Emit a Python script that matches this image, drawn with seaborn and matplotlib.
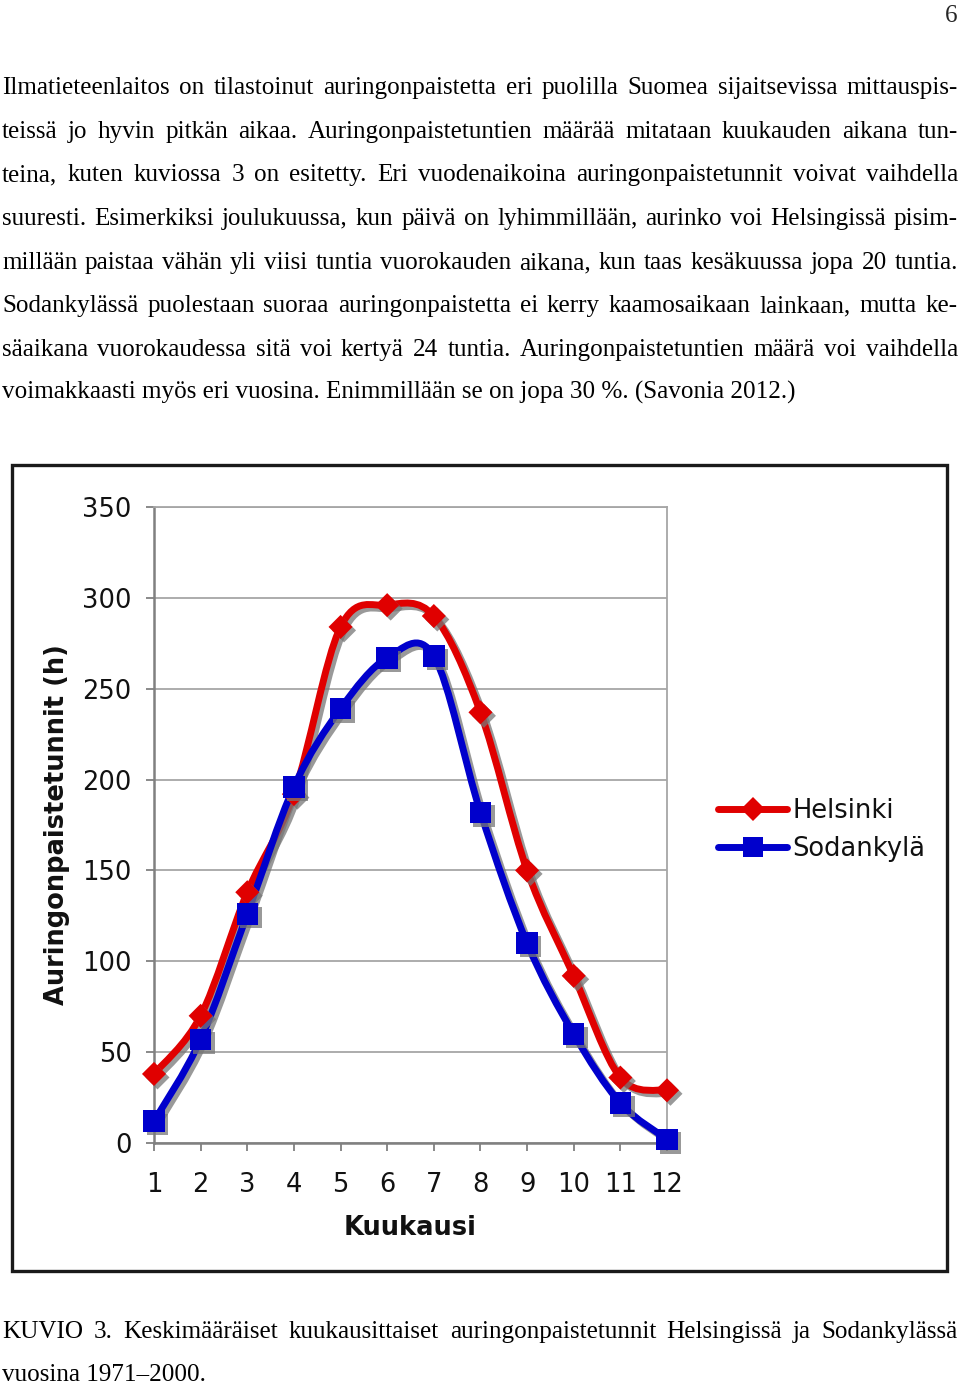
import numpy as np
import matplotlib
matplotlib.use("Agg")
import matplotlib.pyplot as plt
import seaborn as sns
from matplotlib.path import Path
from matplotlib.patches import PathPatch, Rectangle
from matplotlib.lines import Line2D
import matplotlib.patheffects as pe

# ---------------- data ----------------
months = list(range(1, 13))
month_labels = [str(m) for m in months]
helsinki = [38, 70, 138, 192, 284, 296, 290, 237, 150, 92, 36, 29]
sodankyla = [12, 57, 126, 196, 239, 267, 268, 182, 110, 60, 22, 2]
series_names = ["Helsinki", "Sodankylä"]
yticks = [0, 50, 100, 150, 200, 250, 300, 350]
xlabel = "Kuukausi"
ylabel = "Auringonpaistetunnit (h)"

body_lines = [
    "Ilmatieteenlaitos on tilastoinut auringonpaistetta eri puolilla Suomea sijaitsevissa mittauspis-",
    "teissä jo hyvin pitkän aikaa. Auringonpaistetuntien määrää mitataan kuukauden aikana tun-",
    "teina, kuten kuviossa 3 on esitetty. Eri vuodenaikoina auringonpaistetunnit voivat vaihdella",
    "suuresti. Esimerkiksi joulukuussa, kun päivä on lyhimmillään, aurinko voi Helsingissä pisim-",
    "millään paistaa vähän yli viisi tuntia vuorokauden aikana, kun taas kesäkuussa jopa 20 tuntia.",
    "Sodankylässä puolestaan suoraa auringonpaistetta ei kerry kaamosaikaan lainkaan, mutta ke-",
    "säaikana vuorokaudessa sitä voi kertyä 24 tuntia. Auringonpaistetuntien määrä voi vaihdella",
    "voimakkaasti myös eri vuosina. Enimmillään se on jopa 30 %. (Savonia 2012.)",
]
caption_lines = [
    "KUVIO 3. Keskimääräiset kuukausittaiset auringonpaistetunnit Helsingissä ja Sodankylässä",
    "vuosina 1971–2000.",
]
page_number = "6"

# ---------------- style ----------------
W, H = 960, 1384
RED = "#e00000"
BLUE = "#0000cc"
sns.set_theme(style="white")
plt.rcParams["font.family"] = ["DejaVu Sans"]

fig = plt.figure(figsize=(W / 100, H / 100), dpi=100)
fig.patch.set_facecolor("white")
renderer = fig.canvas.get_renderer()

SERIF = "Liberation Serif"


def px(x, y):
    return x / W, 1 - y / H


def text_w(s, fs):
    t = fig.text(0, 0, s, fontsize=fs, family=SERIF)
    w = t.get_window_extent(renderer).width
    t.remove()
    return w


# calibrate body font size from the unjustified last line (2 -> 797 px)
fs_body = 10 * 795 / text_w(body_lines[-1], 10)
LEFT, RIGHT = 2, 958


def draw_line(s, yc, justify):
    yb = yc + 7
    if not justify:
        fig.text(*px(LEFT, yb), s, fontsize=fs_body, family=SERIF,
                 ha="left", va="baseline", color="black")
        return
    words = s.split(" ")
    widths = [text_w(w, fs_body) for w in words]
    gap = (RIGHT - LEFT - sum(widths)) / (len(words) - 1)
    x = LEFT
    for w, wd in zip(words, widths):
        fig.text(*px(x, yb), w, fontsize=fs_body, family=SERIF,
                 ha="left", va="baseline", color="black")
        x += wd + gap


body_y = [87, 131, 174, 218, 262, 305, 349, 392]
for i, (s, y) in enumerate(zip(body_lines, body_y)):
    draw_line(s, y, justify=(i < len(body_lines) - 1))
cap_y = [1331, 1374]
draw_line(caption_lines[0], cap_y[0], True)
draw_line(caption_lines[1], cap_y[1], False)
fig.text(*px(958, 22), page_number, fontsize=fs_body, family=SERIF,
         ha="right", va="baseline")

# chart frame
x0, y0 = px(12, 1271)
x1, y1 = px(947, 465)
fig.add_artist(Rectangle((x0, y0), x1 - x0, y1 - y0, transform=fig.transFigure,
                         fill=False, edgecolor="#1a1a1a", linewidth=2.4))

# ---------------- axes ----------------
ax_l, ax_r, ax_t, ax_b = 154, 667, 507, 1143
ax = fig.add_axes([ax_l / W, 1 - ax_b / H, (ax_r - ax_l) / W, (ax_b - ax_t) / H])
ax.set_facecolor("white")
ax.set_xlim(1, 12)
ax.set_ylim(0, 350)
ax.set_xticks(months)
ax.set_xticklabels(month_labels)
ax.set_yticks(yticks)
ax.set_yticklabels([str(v) for v in yticks])
ax.yaxis.grid(True, color="#a6a6a6", linewidth=1.3)
ax.xaxis.grid(False)
ax.set_axisbelow(True)
for side in ["left", "bottom"]:
    ax.spines[side].set_color("#808080")
    ax.spines[side].set_linewidth(1.8)
for side in ["right", "top"]:
    ax.spines[side].set_color("#a6a6a6")
    ax.spines[side].set_linewidth(1.3)
ax.tick_params(axis="both", which="major", direction="out", length=6, width=1.3,
               color="#808080", labelsize=18.5, labelcolor="#111111")
ax.tick_params(axis="y", pad=10, left=True)
ax.tick_params(axis="x", pad=15, bottom=True)

ax.set_xlabel(xlabel, fontsize=18.5, fontweight="bold", color="#111111")
ax.xaxis.label.set_va("center")
ax.xaxis.set_label_coords(0.5, (ax_b - 1228) / (ax_b - ax_t))
ax.set_ylabel(ylabel, fontsize=18.5, fontweight="bold", color="#111111")
ax.yaxis.label.set_va("center")
ax.yaxis.set_label_coords((57 - ax_l) / (ax_r - ax_l), 0.5)


def smooth_path(x, y):
    x = np.asarray(x, float)
    y = np.asarray(y, float)
    P = np.column_stack([x, y])
    n = len(P)
    verts = [tuple(P[0])]
    codes = [Path.MOVETO]
    for i in range(n - 1):
        p0 = P[max(i - 1, 0)]
        p1 = P[i]
        p2 = P[i + 1]
        p3 = P[min(i + 2, n - 1)]
        c1 = p1 + (p2 - p0) / 6.0
        c2 = p2 - (p3 - p1) / 6.0
        verts += [tuple(c1), tuple(c2), tuple(p2)]
        codes += [Path.CURVE4] * 3
    return Path(verts, codes)


line_fx = [pe.SimpleLineShadow(offset=(2.5, -2.5), shadow_color="#777777", alpha=0.75),
           pe.Normal()]
mark_fx = [pe.SimplePatchShadow(offset=(2.5, -2.5), shadow_rgbFace="#777777", alpha=0.75),
           pe.Normal()]

for vals, color in [(helsinki, RED), (sodankyla, BLUE)]:
    patch = PathPatch(smooth_path(months, vals), transform=ax.transData, fill=False,
                      edgecolor=color, linewidth=5.0, capstyle="round",
                      joinstyle="round", zorder=3, clip_on=False)
    patch.set_path_effects(line_fx)
    ax.add_patch(patch)

sns.scatterplot(x=months, y=helsinki, marker="D", s=150, color=RED, edgecolor=RED,
                linewidth=0, ax=ax, zorder=4, clip_on=False, legend=False,
                path_effects=mark_fx)
sns.scatterplot(x=months, y=sodankyla, marker="s", s=240, color=BLUE, edgecolor=BLUE,
                linewidth=0, ax=ax, zorder=4, clip_on=False, legend=False,
                path_effects=mark_fx)

handles = [
    Line2D([], [], color=RED, linewidth=5.0, marker="D", markersize=12,
           markeredgewidth=0),
    Line2D([], [], color=BLUE, linewidth=5.0, marker="s", markersize=15,
           markeredgewidth=0),
]
leg = fig.legend(handles, series_names, loc="upper left",
                 bbox_to_anchor=px(718, 798), bbox_transform=fig.transFigure,
                 frameon=False, fontsize=18.5, handlelength=2.7, handletextpad=0.2,
                 labelspacing=0.45, borderpad=0, borderaxespad=0)
for t in leg.get_texts():
    t.set_color("#111111")

fig.savefig("out.png", dpi=100, facecolor="white")
